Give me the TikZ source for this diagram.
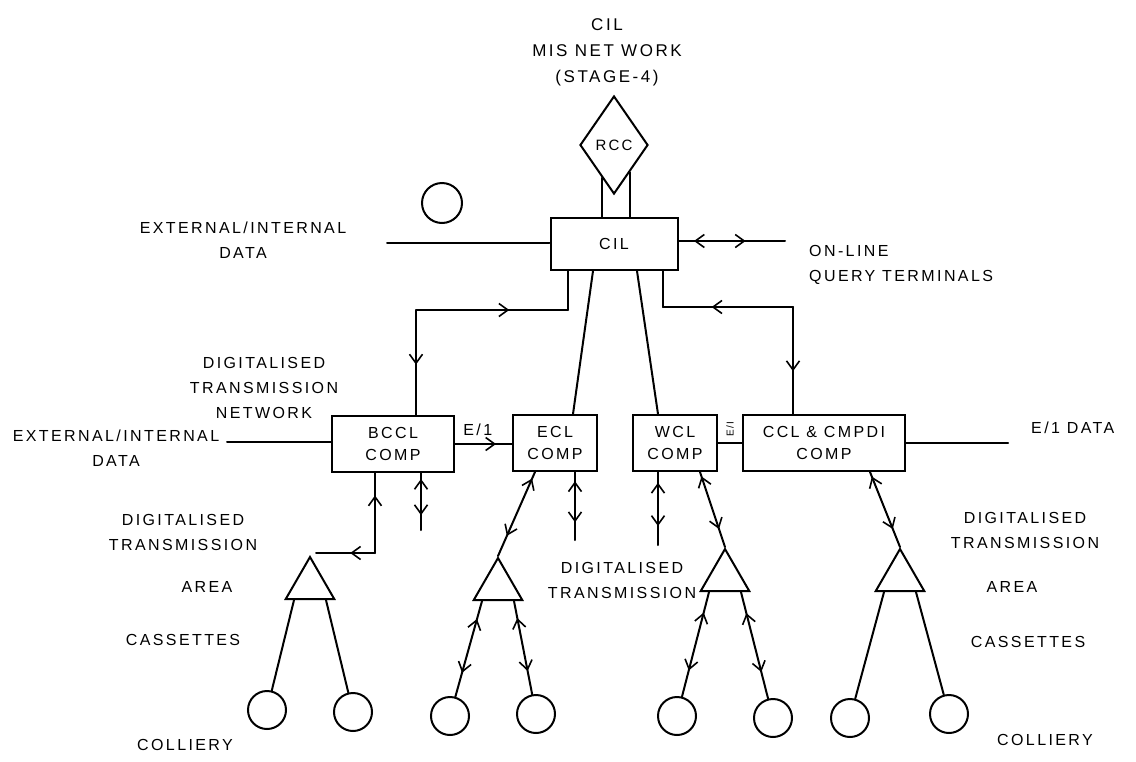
\documentclass[tikz,border=0pt]{standalone}
\usepackage{fontspec}
\setmainfont{Liberation Sans}[LetterSpace=15]
\usetikzlibrary{shapes.geometric,arrows.meta,decorations.markings}

\tikzstyle{comp}=[draw,line width=2pt,rectangle,minimum height=56pt,inner sep=0pt,align=center,font=\fontsize{16}{22}\selectfont]
\tikzstyle{colliery}=[draw,line width=2pt,circle,minimum size=38pt,inner sep=0pt]
\tikzstyle{area}=[draw,line width=2pt,regular polygon,regular polygon sides=3,minimum size=56pt,inner sep=0pt]
\tikzstyle{wire}=[draw,line width=2pt,line cap=round,-]
\tikzstyle{note}=[align=center,inner sep=1pt,font=\fontsize{16}{25}\selectfont]
\tikzset{
    fwd/.style={postaction={decorate},decoration={markings,mark=at position #1 with {\arrow{>}}}},
    bwd/.style={postaction={decorate},decoration={markings,mark=at position #1 with {\arrow{<}}}},
    duplex/.style 2 args={postaction={decorate},decoration={markings,
        mark=at position #1 with {\arrow{<}},mark=at position #2 with {\arrow{>}}}}
}

\begin{document}
\begin{tikzpicture}[x=1pt, y=-1pt, >={Straight Barb[length=9pt,width=13pt,line width=1.6pt]}]
    \useasboundingbox (0,0) rectangle (1136,761);
    % Heading, RCC and the CIL computer
    \node[note,font=\fontsize{17}{26}\selectfont] (title) at (607,52) {CIL\\MIS NET WORK\\(STAGE-4)};
    \node[draw,line width=2pt,diamond,minimum width=68pt,minimum height=98pt,inner sep=0pt,
          font=\fontsize{15}{15}\selectfont] (rcc) at (614,145) {RCC};
    \node[comp,minimum width=127pt,minimum height=52pt] (cil) at (614,244) {CIL};
    \node[colliery,minimum size=40pt] (ring) at (442,203) {};
    % Computers of the subsidiaries
    \node[comp,minimum width=122pt] (bccl) at (393,444) {BCCL\\COMP};
    \node[comp,minimum width=84pt] (ecl) at (555,443) {ECL\\COMP};
    \node[comp,minimum width=84pt] (wcl) at (675,443) {WCL\\COMP};
    \node[comp,minimum width=162pt] (ccl) at (824,443) {CCL \& CMPDI\\COMP};
    \node[font=\fontsize{10}{10}\selectfont,rotate=90,inner sep=0pt] (ei) at (730,429) {E/I};
    % Area cassettes and collieries
    \foreach \pos/\name in {{(310,585)/t1}, {(498,586)/t2}, {(725,577)/t3}, {(900,577)/t4}}
        \node[area] (\name) at \pos {};
    \foreach \pos/\name in {{(267,710)/c1}, {(353,712)/c2}, {(450,716)/c3}, {(536,714)/c4},
                            {(677,716)/c5}, {(773,718)/c6}, {(850,718)/c7}, {(949,714)/c8}}
        \node[colliery] (\name) at \pos {};
    % Free ends of the lines
    \coordinate (extin) at (387,243);
    \coordinate (query) at (785,241);
    \coordinate (extbc) at (227,442);
    \coordinate (e1out) at (1008,443);
    \coordinate (lbend) at (416,310);
    \coordinate (rbend) at (793,307);
    \coordinate (bfoot) at (316,553);
    \coordinate (s1) at (421,530);
    \coordinate (s2) at (575,540);
    \coordinate (s3) at (658,545);
    % Lines round the CIL computer
    \path[wire] (extin) -- (extin -| cil.west);
    \path[wire,duplex={0.25}{0.63}] (cil.east |- query) -- (query);
    \path[wire] (rcc.-110) -- (rcc.-110 |- cil.north);
    \path[wire] (rcc.-60) -- (rcc.-60 |- cil.north);
    \path[wire] ([xshift=-46]cil.south) -- ([xshift=-46]cil.south |- lbend);
    \path[wire,bwd=0.46] ([xshift=-46]cil.south |- lbend) -- (lbend);
    \path[wire,fwd=0.52] (lbend) -- (lbend |- bccl.north);
    \path[wire] ([xshift=49]cil.south) -- ([xshift=49]cil.south |- rbend);
    \path[wire,bwd=0.46] ([xshift=49]cil.south |- rbend) -- (rbend);
    \path[wire,fwd=0.6] (rbend) -- (rbend |- ccl.north);
    \path[wire] ([xshift=-21]cil.south) -- ([xshift=18]ecl.north);
    \path[wire] ([xshift=23]cil.south) -- ([xshift=-17]wcl.north);
    % Lines between the computers
    \path[wire] (extbc) -- (extbc -| bccl.west);
    \path[wire,fwd=0.72] (bccl.east) -- node[note,above=6pt,pos=0.4] {E/1} (bccl.east -| ecl.west);
    \path[wire] (wcl.east) -- (wcl.east -| ccl.west);
    \path[wire] (ccl.east) -- (e1out);
    % Lines down to the areas
    \path[wire,bwd=0.42] ([xshift=-18]bccl.south) -- ([xshift=-18]bccl.south |- bfoot);
    \path[wire,fwd=0.42] ([xshift=-18]bccl.south |- bfoot) -- (bfoot);
    \foreach \source/\shift/\dest in {bccl/28/s1, ecl/20/s2, wcl/-17/s3}
        \path[wire,duplex={0.3}{0.74}] ([xshift=\shift]\source.south) -- (\dest);
    \foreach \source/\shift/\dest in {ecl/-20/t2, wcl/25/t3, ccl/46/t4}
        \path[wire,duplex={0.2}{0.76}] ([xshift=\shift]\source.south) -- (\dest.corner 1);
    % Legs to the collieries
    \foreach \tri/\first/\second in {t1/c1/c2, t4/c7/c8} {
        \path[wire] ([xshift=10]\tri.corner 2) -- (\first);
        \path[wire] ([xshift=-10]\tri.corner 3) -- (\second);
    }
    \foreach \tri/\first/\second in {t2/c3/c4, t3/c5/c6} {
        \path[wire,duplex={0.3}{0.75}] ([xshift=10]\tri.corner 2) -- (\first);
        \path[wire,duplex={0.3}{0.75}] ([xshift=-10]\tri.corner 3) -- (\second);
    }
    % Texts
    \node[note] (ext1) at (243,240) {EXTERNAL/INTERNAL\\DATA};
    \node[note,align=left,anchor=west] (olq) at (808,265) {ON-LINE\\QUERY TERMINALS};
    \node[note] (dtn) at (264,388) {DIGITALISED\\TRANSMISSION\\NETWORK};
    \node[note] (ext2) at (116,448) {EXTERNAL/INTERNAL\\DATA};
    \node[note,anchor=west] (e1d) at (1030,428) {E/1 DATA};
    \node[note] (dtl) at (183,532) {DIGITALISED\\TRANSMISSION};
    \node[note] (areal) at (207,587) {AREA};
    \node[note] (casl) at (183,640) {CASSETTES};
    \node[note] (coll) at (185,745) {COLLIERY};
    \node[note] (dtm) at (622,580) {DIGITALISED\\TRANSMISSION};
    \node[note] (dtr) at (1025,530) {DIGITALISED\\TRANSMISSION};
    \node[note] (arear) at (1012,587) {AREA};
    \node[note] (casr) at (1028,642) {CASSETTES};
    \node[note] (colr) at (1045,740) {COLLIERY};
\end{tikzpicture}
\end{document}
